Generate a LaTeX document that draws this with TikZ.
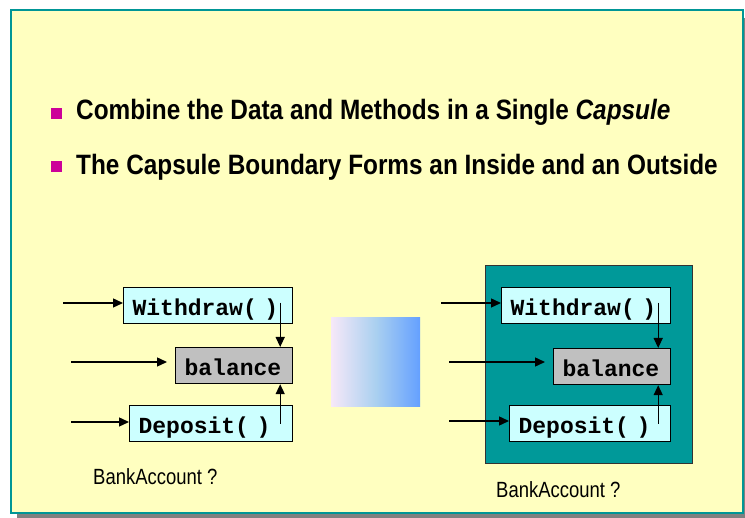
\documentclass[tikz,border=0pt]{standalone}
\usepackage{fontspec}
\setmainfont{Liberation Sans}
\newfontfamily\narrowsans[FakeStretch=0.87]{Liberation Sans}
\newfontfamily\labelsans[FakeStretch=0.84]{Liberation Sans}
\newfontfamily\codefont{Liberation Mono}
\usepackage{tikz}
\usetikzlibrary{positioning, arrows.meta}
\definecolor{slidebg}{RGB}{255,255,192}
\definecolor{framecolor}{RGB}{0,150,150}
\definecolor{shadowcolor}{RGB}{128,128,128}
\definecolor{bulletcolor}{RGB}{204,0,153}
\definecolor{methcolor}{RGB}{204,255,255}
\definecolor{attrcolor}{RGB}{192,192,192}
\definecolor{capcolor}{RGB}{0,153,153}
\definecolor{gradleft}{RGB}{246,232,248}
\definecolor{gradmid}{RGB}{170,208,240}
\definecolor{gradright}{RGB}{100,160,255}

\begin{document}
\begin{tikzpicture}[
  x=1pt, y=-1pt,
  >={Triangle[length=10pt,width=9pt]},
  % --- Styles ---
  headline/.style={anchor=base west, inner sep=0pt,
    font=\narrowsans\bfseries\fontsize{28}{32}\selectfont},
  bulletsq/.style={rectangle, fill=bulletcolor, minimum size=11pt,
    inner sep=0pt, anchor=south west},
  membox/.style={
    rectangle, draw=black, line width=1.2pt, fill=#1,
    minimum height=36pt, text height=20pt, text depth=0pt,
    inner xsep=9pt, inner ysep=0pt, align=left, anchor=north west,
    font=\codefont\bfseries\fontsize{23}{24}\selectfont},
  membox/.default=methcolor,
  capsule/.style={
    rectangle, draw=black!80, line width=1.3pt, fill=capcolor,
    anchor=north west, inner sep=0pt},
  flow/.style={->, line width=1.4pt, black},
  lbl/.style={anchor=base west, inner sep=0pt,
    font=\labelsans\fontsize{22}{26}\selectfont},
]
\useasboundingbox (0,0) rectangle (745,518);
% === SLIDE FRAME ===
\fill[shadowcolor] (17,18) rectangle (752,518);
\draw[framecolor, line width=2.4pt, fill=slidebg] (11,10) rectangle (743,513);

% === BULLETS ===
\node[bulletsq] (b1) at (51,119) {};
\node[headline] (h1) at (76,120) {Combine the Data and Methods in a Single \textit{Capsule}};
\node[bulletsq] (b2) at (51,172) {};
\node[headline] (h2) at (76,175) {The Capsule Boundary Forms an Inside and an Outside};

% === LEFT: NO CAPSULE ===
\node[membox, text width=151pt] (wdL) at (123,287) {Withdraw( )};
\node[membox=attrcolor, text width=99pt] (balL) at (175,347) {balance};
\node[membox, text width=145pt] (dpL) at (129,405) {Deposit( )};
\coordinate (inWdL) at (63,303);
\coordinate (inBalL) at (71,362);
\coordinate (inDpL) at (71,422);
\node[lbl] (nameL) at (93,485) {BankAccount ?};

% === MIDDLE ===
\node[rectangle, left color=gradleft, right color=gradright, middle color=gradmid,
      minimum width=89pt, minimum height=89pt, inner sep=0pt, anchor=north west]
  (grad) at (331,317) {};

% === RIGHT: CAPSULE ===
\node[capsule, minimum width=207pt, minimum height=198pt] (capR) at (485,265) {};
\node[membox, text width=151pt] (wdR) at (501,287) {Withdraw( )};
\node[membox=attrcolor, text width=99pt] (balR) at (553,348) {balance};
\node[membox, text width=143pt] (dpR) at (509,405) {Deposit( )};
\coordinate (inWdR) at (441,303);
\coordinate (inBalR) at (449,362);
\coordinate (inDpR) at (449,421);
\node[lbl] (nameR) at (496,498) {BankAccount ?};

% === ARROWS ===
% outside callers
\draw[flow] (inWdL) -- (wdL.west |- inWdL);
\draw[flow, shorten >=8pt] (inBalL) -- (balL.west |- inBalL);
\draw[flow] (inDpL) -- (dpL.west |- inDpL);
\draw[flow] (inWdR) -- (wdR.west |- inWdR);
\draw[flow, shorten >=8pt] (inBalR) -- (balR.west |- inBalR);
\draw[flow] (inDpR) -- (dpR.west |- inDpR);
% methods touching the data
\draw[flow] ([xshift=-13pt,yshift=3pt]wdL.east) -- ([xshift=-13pt]balL.north east);
\draw[flow] ([xshift=-13pt]dpL.east) -- ([xshift=-13pt]balL.south east);
\draw[flow] ([xshift=-13pt,yshift=3pt]wdR.east) -- ([xshift=-13pt]balR.north east);
\draw[flow] ([xshift=-13pt]dpR.east) -- ([xshift=-13pt]balR.south east);
\end{tikzpicture}
\end{document}
